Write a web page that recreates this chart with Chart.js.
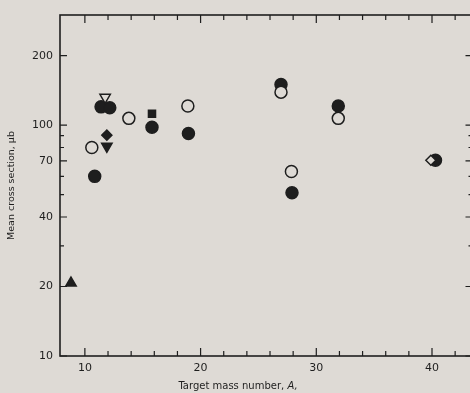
<!DOCTYPE html>
<html>
<head>
<meta charset="utf-8">
<script src="https://cdn.jsdelivr.net/npm/chart.js@4/dist/chart.umd.min.js"></script>
<style>
  html, body { margin: 0; padding: 0; background: #dedad5; overflow: hidden; }
  #wrap { width: 480px; height: 393px; position: relative; }
</style>
</head>
<body>
<div id="wrap"><canvas id="myChart"></canvas></div>
<script>
// target mass number A vs mean cross section (microbarn)
const openCircleA = [10.6, 13.8, 18.9, 26.95, 27.85, 31.9];
const openCircleS = [80, 107, 121, 139, 63, 107];
const filledCircleA = [10.85, 11.4, 12.15, 15.8, 18.95, 26.95, 27.9, 31.9, 40.3];
const filledCircleS = [60, 120, 119, 98, 92, 150, 51, 121, 70.5];
const filledTriUpA = [8.8];
const filledTriUpS = [20.7];
const openTriDownA = [11.75];
const openTriDownS = [132];
const filledDiamondA = [11.9];
const filledDiamondS = [90.5];
const filledTriDownA = [11.9];
const filledTriDownS = [81];
const filledSquareA = [15.8];
const filledSquareS = [112];
const openDiamondA = [39.9];
const openDiamondS = [70.5];

const xTickVals = [10, 12, 14, 16, 18, 20, 22, 24, 26, 28, 30, 32, 34, 36, 38, 40, 42];
const xLabelVals = [10, 20, 30, 40];
const yTickVals = [10, 20, 30, 40, 50, 60, 70, 80, 90, 100, 200];
const yLabelVals = [10, 20, 40, 70, 100, 200];

const ink = '#1e1e1e';
const bg = '#dedad5';

function pts(xs, ys) { return xs.map((x, i) => ({ x: x, y: ys[i] })); }

function ds(xs, ys, style, filled, radius, rot) {
    return {
        data: pts(xs, ys),
        pointStyle: style,
        pointRadius: radius,
        pointRotation: rot || 0,
        pointBackgroundColor: filled ? ink : bg,
        pointBorderColor: ink,
        pointBorderWidth: 1.5,
        showLine: false
    };
}

// frame + inward ticks
const framePlugin = {
    id: 'frame',
    beforeDatasetsDraw(chart) {
        const ctx = chart.ctx;
        const a = chart.chartArea;
        const xs = chart.scales.x, ys = chart.scales.y;
        ctx.save();
        ctx.strokeStyle = ink;
        ctx.lineWidth = 1.6;
        ctx.strokeRect(a.left, a.top, a.right - a.left, a.bottom - a.top);
        ctx.lineWidth = 1.2;
        ctx.beginPath();
        xTickVals.forEach(v => {
            const px = xs.getPixelForValue(v);
            const len = xLabelVals.includes(v) ? 8 : 5;
            ctx.moveTo(px, a.bottom); ctx.lineTo(px, a.bottom - len);
            ctx.moveTo(px, a.top); ctx.lineTo(px, a.top + len);
        });
        yTickVals.forEach(v => {
            const py = ys.getPixelForValue(v);
            const len = yLabelVals.includes(v) ? 7 : 4;
            ctx.moveTo(a.left, py); ctx.lineTo(a.left + len, py);
            ctx.moveTo(a.right, py); ctx.lineTo(a.right - len, py);
        });
        ctx.stroke();
        // x axis title, sits left of centre in the original
        ctx.fillStyle = ink;
        ctx.textBaseline = 'middle';
        const t1 = 'Target mass number, ';
        ctx.font = 'italic 10px "DejaVu Sans"';
        const w2 = ctx.measureText('A,').width;
        ctx.font = '10px "DejaVu Sans"';
        const w1 = ctx.measureText(t1).width;
        const x0 = 238 - (w1 + w2) / 2;
        ctx.textAlign = 'left';
        ctx.fillText(t1, x0, 386);
        ctx.font = 'italic 10px "DejaVu Sans"';
        ctx.fillText('A,', x0 + w1, 386);
        ctx.restore();
    }
};

const myChartRef = document.getElementById('myChart').getContext('2d');

new Chart(myChartRef, {
    type: 'scatter',
    data: {
        datasets: [
            ds(openDiamondA, openDiamondS, 'rectRot', false, 5),
            ds(openCircleA, openCircleS, 'circle', false, 6),
            ds(openTriDownA, openTriDownS, 'triangle', false, 6, 180),
            ds(filledCircleA, filledCircleS, 'circle', true, 6),
            ds(filledTriUpA, filledTriUpS, 'triangle', true, 6),
            ds(filledDiamondA, filledDiamondS, 'rectRot', true, 5),
            ds(filledTriDownA, filledTriDownS, 'triangle', true, 6, 180),
            ds(filledSquareA, filledSquareS, 'rect', true, 5)
        ]
    },
    options: {
        responsive: true,
        maintainAspectRatio: false,
        animation: false,
        layout: { padding: { top: 15, right: 6, left: 0, bottom: 0 } },
        plugins: { legend: { display: false }, tooltip: { enabled: false } },
        scales: {
            x: {
                type: 'linear',
                min: 7.85,
                max: 43.5,
                grid: { display: false, drawTicks: false },
                border: { display: false },
                afterBuildTicks(scale) { scale.ticks = xTickVals.map(v => ({ value: v })); },
                afterFit(scale) { scale.height = 37; },
                ticks: {
                    autoSkip: false,
                    maxRotation: 0,
                    padding: 6,
                    color: ink,
                    font: { family: 'DejaVu Sans', size: 11 },
                    callback: v => xLabelVals.includes(v) ? String(v) : ''
                }
            },
            y: {
                type: 'logarithmic',
                min: 10,
                max: 300,
                grid: { display: false, drawTicks: false },
                border: { display: false },
                afterBuildTicks(scale) { scale.ticks = yTickVals.map(v => ({ value: v })); },
                afterFit(scale) { scale.width = 60; },
                title: {
                    display: true,
                    text: 'Mean cross section, μb',
                    color: ink,
                    font: { family: 'DejaVu Sans', size: 9.5 },
                    padding: { top: 6, bottom: 0 }
                },
                ticks: {
                    autoSkip: false,
                    padding: 7,
                    color: ink,
                    font: { family: 'DejaVu Sans', size: 11 },
                    callback: v => yLabelVals.includes(v) ? String(v) : ''
                }
            }
        }
    },
    plugins: [framePlugin]
});
</script>
</body>
</html>
